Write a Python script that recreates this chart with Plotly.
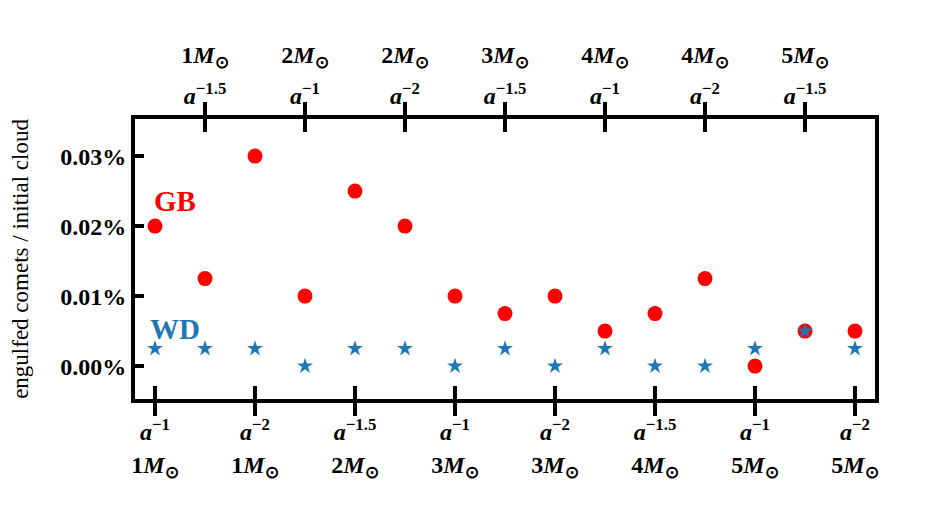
import plotly.graph_objects as go

# data (fractions, shown as %)
positions = list(range(15))
masses = [1, 1, 1, 2, 2, 2, 3, 3, 3, 4, 4, 4, 5, 5, 5]
exponents = ["-1", "-1.5", "-2"] * 5
gb_values = [0.00020, 0.000125, 0.00030, 0.00010, 0.00025, 0.00020, 0.00010, 0.000075,
             0.00010, 0.00005, 0.000075, 0.000125, 0.0, 0.00005, 0.00005]
wd_values = [0.000025, 0.000025, 0.000025, 0.0, 0.000025, 0.000025, 0.0, 0.000025,
             0.0, 0.000025, 0.0, 0.0, 0.000025, 0.00005, 0.000025]
y_ticks = [0.0, 0.0001, 0.0002, 0.0003]

RED = "#ff0000"
BLUE = "#1f77b4"
SERIF = "Liberation Serif, Times New Roman, serif"


def a_lab(e):
    return "<i>a</i><sup>\u2212" + e[1:] + "</sup>"


def m_lab(m):
    return f"{m}<i>M</i><sub>\u2299</sub>"


bottom_vals = positions[0::2]
top_vals = positions[1::2]

fig = go.Figure()
# invisible copies so the extra tick axes get drawn
for ax in ["x2", "x3", "x4"]:
    fig.add_trace(go.Scatter(x=positions, y=gb_values, mode="markers", xaxis=ax,
                             marker=dict(opacity=0), hoverinfo="skip", showlegend=False))
fig.add_trace(go.Scatter(x=positions, y=gb_values, mode="markers", name="GB",
                         marker=dict(color=RED, size=15, symbol="circle")))
fig.add_trace(go.Scatter(x=positions, y=wd_values, mode="markers", name="WD",
                         marker=dict(color=BLUE, size=12, symbol="star")))

xr = [-0.4, 14.4]
tickfont = dict(family=SERIF, size=24, color="black", weight="bold")
common = dict(range=xr, showgrid=False, zeroline=False, tickwidth=4, ticklen=13,
              tickcolor="black", automargin=False, tickmode="array", tickfont=tickfont)

fig.update_layout(
    width=926, height=518,
    margin=dict(l=127, r=59, t=111, b=127),
    plot_bgcolor="white", paper_bgcolor="white",
    showlegend=False,
    # bottom: outside ticks carry a-labels, inside ticks carry mass labels
    xaxis=dict(**common, tickvals=bottom_vals,
               ticktext=[a_lab(exponents[i]) for i in bottom_vals],
               ticks="outside", ticklabelstandoff=-5, showline=True, linewidth=4,
               linecolor="black"),
    xaxis3=dict(**common, overlaying="x", side="bottom", tickvals=bottom_vals,
                ticktext=[m_lab(masses[i]) for i in bottom_vals],
                ticks="inside", ticklabelstandoff=49),
    # top: same idea, mass on the outer row
    xaxis2=dict(**common, overlaying="x", side="top", tickvals=top_vals,
                ticktext=[a_lab(exponents[i]) for i in top_vals],
                ticks="outside", ticklabelstandoff=-12, showline=True, linewidth=4,
                linecolor="black"),
    xaxis4=dict(**common, overlaying="x", side="top", tickvals=top_vals,
                ticktext=[m_lab(masses[i]) for i in top_vals],
                ticks="inside", ticklabelstandoff=50),
    yaxis=dict(range=[-0.000047, 0.000353], tickmode="array", tickvals=y_ticks,
               tickformat=".2%", ticks="inside", ticklen=9, tickwidth=4,
               tickcolor="black", tickfont=tickfont, showgrid=False, zeroline=False,
               showline=True, linewidth=4, linecolor="black", mirror=True,
               automargin=False,
               title=dict(text="engulfed comets / initial cloud",
                          font=dict(family=SERIF, size=23, color="black"), standoff=80)),
)

fig.add_annotation(x=0.4, y=0.000236, text="<b>GB</b>", showarrow=False,
                   font=dict(family=SERIF, size=29, color=RED))
fig.add_annotation(x=0.4, y=0.000053, text="<b>WD</b>", showarrow=False,
                   font=dict(family=SERIF, size=29, color=BLUE))

fig.write_html("out.html")
